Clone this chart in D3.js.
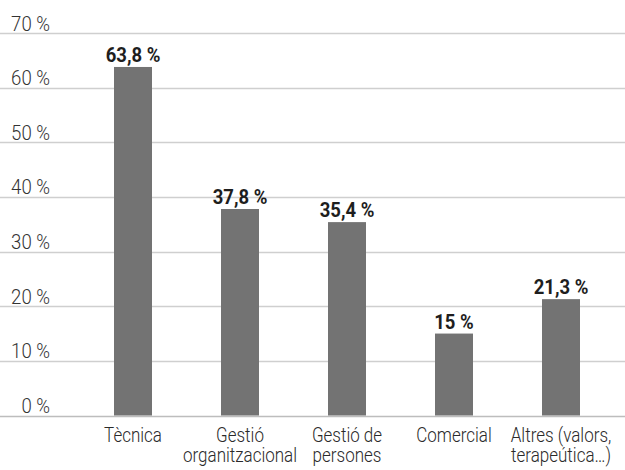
<!DOCTYPE html>
<html>
<head>
<meta charset="utf-8">
<script src="https://cdnjs.cloudflare.com/ajax/libs/d3/7.8.5/d3.min.js"></script>
<style>
    body { margin: 0; background: #fff; }
    text { font-family: Roboto, "Liberation Sans", sans-serif; }
</style>
</head>
<body>
<div id="chart"></div>
<script>
// Dades
var categories = ["Tècnica", "Gestió organitzacional", "Gestió de persones", "Comercial", "Altres (valors, terapeútica…)"];
var labelLines = [["Tècnica"], ["Gestió", "organitzacional"], ["Gestió de", "persones"], ["Comercial"], ["Altres (valors,", "terapeútica…)"]];
var values = [63.8, 37.8, 35.4, 15, 21.3];
var valueLabels = ["63,8 %", "37,8 %", "35,4 %", "15 %", "21,3 %"];
var ticks = [0, 10, 20, 30, 40, 50, 60, 70];

var width = 625,
    height = 470;

var x = d3.scaleBand()
    .domain(categories)
    .range([79.5, 614.5])
    .paddingInner(0.645)
    .paddingOuter(0.3225);

var y = d3.scaleLinear()
    .domain([0, 70])
    .range([415.5, 33.1]);

var svg = d3.select("#chart").append("svg")
    .attr("width", width)
    .attr("height", height);

// la font original es condensada -> escala horitzontal
function place(px, py, sx) {
    return "translate(" + px + "," + py + ") scale(" + sx + ",1)";
}

// gridlines + etiquetes de l'eix y
var grid = svg.append("g").attr("class", "grid");
grid.selectAll("line")
    .data(ticks)
    .enter().append("line")
    .attr("x1", 0)
    .attr("x2", width)
    .attr("y1", function (d) { return Math.round(y(d)) + 0.5; })
    .attr("y2", function (d) { return Math.round(y(d)) + 0.5; })
    .attr("stroke", function (d) { return d === 0 ? "#bdbdbd" : "#cfcfcf"; })
    .attr("stroke-width", 1.5);

grid.selectAll("text")
    .data(ticks)
    .enter().append("text")
    .attr("transform", function (d) { return place(50, y(d) - 2.5, 0.93); })
    .attr("text-anchor", "end")
    .style("font-size", "20px")
    .style("font-weight", 300)
    .attr("fill", "#333")
    .text(function (d) { return d + " %"; });

// barres
svg.append("g")
    .selectAll("rect")
    .data(values)
    .enter().append("rect")
    .attr("x", function (d, i) { return x(categories[i]); })
    .attr("width", x.bandwidth())
    .attr("y", function (d) { return y(d); })
    .attr("height", function (d) { return y(0) - y(d); })
    .attr("fill", "#737373");

// valors sobre les barres
svg.append("g")
    .selectAll("text")
    .data(values)
    .enter().append("text")
    .attr("transform", function (d, i) {
        return place(x(categories[i]) + x.bandwidth() / 2, y(d) - 5, 0.95);
    })
    .attr("text-anchor", "middle")
    .style("font-size", "19.5px")
    .style("font-weight", "bold")
    .attr("fill", "#1e1e1e")
    .text(function (d, i) { return valueLabels[i]; });

// etiquetes de categoria
var xl = svg.append("g")
    .selectAll("text")
    .data(categories)
    .enter().append("text")
    .attr("transform", function (d) { return place(x(d) + x.bandwidth() / 2, 441.7, 0.85); })
    .attr("text-anchor", "middle")
    .style("font-size", "20px")
    .style("font-weight", 300)
    .attr("fill", "#2a2a2a");

xl.selectAll("tspan")
    .data(function (d, i) { return labelLines[i]; })
    .enter().append("tspan")
    .attr("x", 0)
    .attr("dy", function (d, i) { return i === 0 ? 0 : 20; })
    .text(function (d) { return d; });
</script>
</body>
</html>
